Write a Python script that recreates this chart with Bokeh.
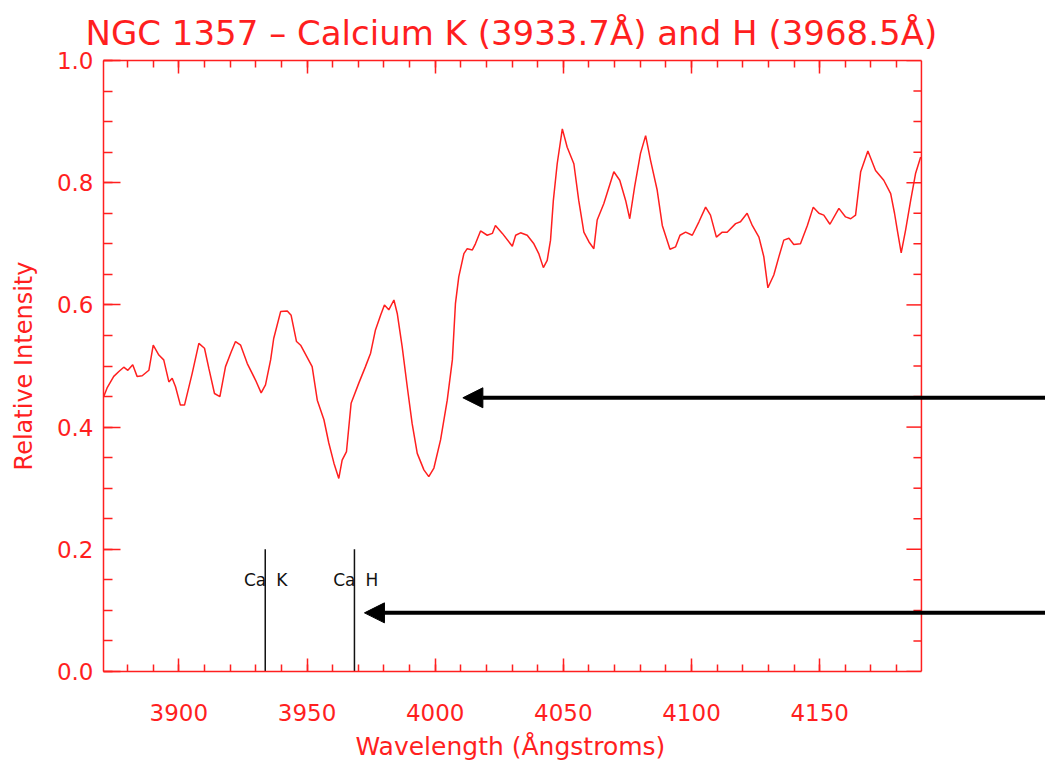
import numpy as np
from bokeh.plotting import figure
from bokeh.models import (Range1d, LinearAxis, SingleIntervalTicker, NumeralTickFormatter,
                          Arrow, NormalHead, ColumnDataSource, CustomLabelingPolicy, Title)
from bokeh.core.properties import value
from bokeh.embed import file_html
from bokeh.resources import INLINE

# ---- data ----
wavelength = [3870.7, 3872.0, 3874.6, 3876.6, 3878.5, 3880.1, 3882.0, 3883.7, 3885.7, 3888.3,
              3890.0, 3892.2, 3894.1, 3896.1, 3897.4, 3898.7, 3900.6, 3902.2, 3905.2, 3907.8,
              3910.0, 3911.7, 3913.9, 3916.0, 3918.2, 3920.4, 3922.1, 3924.1, 3926.7, 3929.9,
              3932.1, 3933.8, 3935.8, 3937.0, 3939.7, 3942.3, 3943.8, 3945.9, 3947.5, 3952.0,
              3954.0, 3956.6, 3958.5, 3960.5, 3962.4, 3963.7, 3965.4, 3967.2, 3970.2, 3972.8,
              3974.8, 3976.7, 3978.7, 3980.2, 3981.9, 3983.9, 3985.2, 3987.1, 3989.1, 3991.0,
              3993.0, 3995.6, 3997.5, 3999.5, 4002.1, 4004.7, 4006.7, 4007.9, 4009.2, 4011.2,
              4012.5, 4014.5, 4015.7, 4017.7, 4020.3, 4022.3, 4023.5, 4026.2, 4030.1, 4031.4,
              4033.3, 4035.9, 4038.5, 4040.4, 4042.2, 4043.7, 4045.0, 4046.1, 4047.6, 4049.6,
              4051.5, 4054.1, 4056.0, 4058.0, 4060.0, 4061.9, 4063.2, 4065.8, 4069.7, 4072.0,
              4074.3, 4075.9, 4077.8, 4080.1, 4082.1, 4084.0, 4086.6, 4088.6, 4091.6, 4093.8,
              4095.5, 4097.7, 4100.3, 4102.9, 4105.5, 4107.4, 4109.7, 4112.0, 4113.9, 4117.2,
              4119.1, 4121.7, 4123.7, 4126.3, 4128.2, 4129.8, 4132.1, 4134.1, 4136.0, 4138.0,
              4139.9, 4142.5, 4145.2, 4147.5, 4149.7, 4151.6, 4154.0, 4157.5, 4160.1, 4162.1,
              4164.0, 4166.0, 4168.8, 4171.8, 4175.0, 4177.7, 4179.2, 4180.3, 4181.8, 4183.5,
              4185.5, 4187.4, 4189.4]
intensity = [0.450, 0.464, 0.483, 0.491, 0.498, 0.493, 0.502, 0.483, 0.484, 0.493,
             0.534, 0.518, 0.510, 0.474, 0.480, 0.466, 0.436, 0.436, 0.488, 0.537,
             0.529, 0.496, 0.455, 0.450, 0.499, 0.523, 0.540, 0.534, 0.504, 0.477,
             0.456, 0.469, 0.510, 0.545, 0.589, 0.590, 0.583, 0.540, 0.534, 0.499,
             0.444, 0.412, 0.374, 0.341, 0.316, 0.346, 0.360, 0.439, 0.472, 0.499,
             0.521, 0.559, 0.583, 0.600, 0.592, 0.608, 0.586, 0.532, 0.466, 0.406,
             0.357, 0.330, 0.319, 0.333, 0.379, 0.444, 0.510, 0.602, 0.646, 0.684,
             0.692, 0.690, 0.700, 0.721, 0.714, 0.717, 0.730, 0.717, 0.696, 0.714,
             0.718, 0.714, 0.700, 0.684, 0.661, 0.673, 0.706, 0.771, 0.831, 0.888,
             0.858, 0.831, 0.771, 0.719, 0.703, 0.692, 0.739, 0.766, 0.818, 0.804,
             0.771, 0.741, 0.793, 0.848, 0.877, 0.837, 0.788, 0.730, 0.691, 0.695,
             0.714, 0.719, 0.714, 0.736, 0.760, 0.747, 0.711, 0.719, 0.719, 0.733,
             0.736, 0.750, 0.730, 0.711, 0.679, 0.628, 0.649, 0.679, 0.706, 0.709,
             0.699, 0.700, 0.730, 0.760, 0.750, 0.747, 0.732, 0.758, 0.744, 0.741,
             0.747, 0.818, 0.852, 0.820, 0.804, 0.782, 0.750, 0.722, 0.685, 0.722,
             0.771, 0.815, 0.842]

line_wavelengths = [3933.7, 3968.5]     # Ca K, Ca H
line_ion = ["Ca", "Ca"]
line_name = ["K", "H"]
line_marker_top = 0.2
line_label_y = 0.15

arrow_tip_x = [4010.8, 3972.4]
arrow_tip_y = [0.448, 0.096]
arrow_start_x = 4260.0

title_text = "NGC 1357 \u2013 Calcium K (3933.7\u00c5) and H (3968.5\u00c5)"
x_label = "Wavelength (\u00c5ngstroms)"
y_label = "Relative Intensity"

X_MIN, X_MAX = 3870.6, 4189.7     # axis box
X_VIEW_MAX = 4238.1               # visible area extends to the right edge of the page
Y_MIN, Y_MAX = 0.0, 1.0

RED = "#ff1f1f"
FONT = "DejaVu Sans"

p = figure(width=1045, height=767, output_backend="svg", toolbar_location=None,
           x_range=Range1d(X_MIN, X_VIEW_MAX), y_range=Range1d(Y_MIN, Y_MAX),
           x_axis_type=None, y_axis_type=None,
           min_border_left=103, min_border_right=0, min_border_top=60, min_border_bottom=95)
p.background_fill_color = "white"
p.border_fill_color = "white"
p.outline_line_color = None
p.xgrid.visible = False
p.ygrid.visible = False

no_labels = CustomLabelingPolicy(code="for (const i of indices) indices.unset(i); return indices;")


def style_ticks(ax, major, minor):
    ax.axis_line_color = RED
    ax.axis_line_width = 1.5
    ax.major_tick_line_color = RED
    ax.minor_tick_line_color = RED
    ax.major_tick_line_width = 1.5
    ax.minor_tick_line_width = 1.5
    ax.major_tick_in = major
    ax.major_tick_out = 0
    ax.minor_tick_in = minor
    ax.minor_tick_out = 0


xb = LinearAxis(ticker=SingleIntervalTicker(interval=50, num_minor_ticks=5), bounds=(X_MIN, X_MAX))
style_ticks(xb, 13, 7)
xb.major_label_text_color = RED
xb.major_label_text_font = FONT
xb.major_label_text_font_size = "23px"
xb.major_label_standoff = 32
p.add_layout(xb, "below")

# x-axis title, placed under the axis box (the frame itself runs to the page edge)
p.add_layout(Title(text=x_label, align="left", offset=252, text_color=RED, text_font=FONT,
                   text_font_style="normal", text_font_size="25px", standoff=13), "below")

xt = LinearAxis(ticker=SingleIntervalTicker(interval=50, num_minor_ticks=5), bounds=(X_MIN, X_MAX),
                major_label_policy=no_labels)
style_ticks(xt, 13, 7)
xt.major_label_standoff = 0
xt.major_label_text_font_size = "8px"
p.add_layout(xt, "above")

yl = LinearAxis(ticker=SingleIntervalTicker(interval=0.2, num_minor_ticks=4),
                formatter=NumeralTickFormatter(format="0.0"), bounds=(Y_MIN, Y_MAX))
style_ticks(yl, 17, 9)
yl.major_label_text_color = RED
yl.major_label_text_font = FONT
yl.major_label_text_font_size = "23px"
yl.major_label_standoff = 10
yl.axis_label = y_label
yl.axis_label_text_color = RED
yl.axis_label_text_font = FONT
yl.axis_label_text_font_style = "normal"
yl.axis_label_text_font_size = "24px"
yl.axis_label_standoff = 16
p.add_layout(yl, "left")

# right edge of the axis box, with inward ticks (no labels)
major_y = np.arange(0, 6) * 0.2
minor_y = np.array([v for v in np.arange(0, 21) * 0.05 if abs(v / 0.2 - round(v / 0.2)) > 1e-6])
p.segment(x0=[X_MAX], y0=[Y_MIN], x1=[X_MAX], y1=[Y_MAX], line_color=RED, line_width=1.5)
p.ray(x=[X_MAX] * len(major_y), y=major_y, length=15, length_units="screen", angle=np.pi,
      line_color=RED, line_width=1.5)
p.ray(x=[X_MAX] * len(minor_y), y=minor_y, length=8, length_units="screen", angle=np.pi,
      line_color=RED, line_width=1.5)

# spectrum
p.line(wavelength, intensity, line_color=RED, line_width=1.5)

# Ca K / Ca H markers
src = ColumnDataSource(dict(x=line_wavelengths,
                            y0=[0.0] * len(line_wavelengths),
                            y1=[line_marker_top] * len(line_wavelengths),
                            ly=[line_label_y] * len(line_wavelengths),
                            ion=line_ion, name=line_name))
p.segment(x0="x", y0="y0", x1="x", y1="y1", source=src, line_color="#111111", line_width=1.5)
p.text(x="x", y="ly", text="ion", source=src, text_align="right", text_baseline="middle",
       text_font=value(FONT), text_font_size="17px", text_color="#111111", x_offset=1)
p.text(x="x", y="ly", text="name", source=src, text_align="left", text_baseline="middle",
       text_font=value(FONT), text_font_size="17px", text_color="#111111", x_offset=11)

# main title, over the axis box
p.title.text = title_text
p.title.align = "left"
p.title.offset = -18
p.title.text_color = RED
p.title.text_font = FONT
p.title.text_font_style = "normal"
p.title.text_font_size = "34px"
p.title.standoff = 0

# arrows from the right edge of the page
for tx, ty in zip(arrow_tip_x, arrow_tip_y):
    p.add_layout(Arrow(x_start=arrow_start_x, y_start=ty, x_end=tx, y_end=ty,
                       line_color="black", line_width=4,
                       end=NormalHead(size=20, fill_color="black", line_color="black",
                                      line_width=1)))

open("out.html", "w").write(file_html(p, INLINE))
